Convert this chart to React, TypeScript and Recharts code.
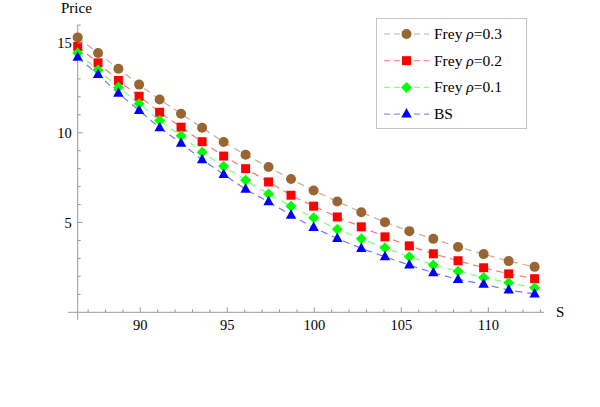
import { LineChart, Line, XAxis, YAxis, Legend, ReferenceLine } from "recharts";

// Underlying price S (x values)
const spotPrices = [
  86.4, 87.57, 88.74, 89.93, 91.11, 92.34, 93.55, 94.79, 96.05, 97.37, 98.66,
  99.96, 101.32, 102.7, 104.06, 105.46, 106.84, 108.26, 109.73, 111.17, 112.66,
];

// Option price per model
const freyRho03 = [
  15.31, 14.44, 13.56, 12.68, 11.85, 11.06, 10.28, 9.48, 8.78, 8.09, 7.42, 6.78,
  6.17, 5.57, 5.02, 4.52, 4.09, 3.64, 3.24, 2.85, 2.53,
];
const freyRho02 = [
  14.81, 13.89, 12.91, 12.03, 11.14, 10.31, 9.5, 8.7, 8.0, 7.26, 6.52, 5.91,
  5.31, 4.76, 4.2, 3.7, 3.26, 2.87, 2.48, 2.14, 1.87,
];
const freyRho01 = [
  14.44, 13.5, 12.53, 11.61, 10.68, 9.83, 8.92, 8.13, 7.35, 6.59, 5.91, 5.26,
  4.63, 4.09, 3.59, 3.09, 2.64, 2.29, 1.94, 1.64, 1.37,
];
const blackScholes = [
  14.2, 13.24, 12.2, 11.24, 10.28, 9.42, 8.5, 7.68, 6.85, 6.15, 5.41, 4.72,
  4.11, 3.56, 3.09, 2.63, 2.2, 1.83, 1.56, 1.24, 1.02,
];

const xTicks = [87, 88, 89, 90, 91, 92, 93, 94, 95, 96, 97, 98, 99, 100, 101, 102, 103, 104, 105, 106, 107, 108, 109, 110, 111, 112, 113];
const xLabelTicks = [90, 95, 100, 105, 110];
const yTicks = [1, 2, 3, 4, 5, 6, 7, 8, 9, 10, 11, 12, 13, 14, 15, 16];
const yLabelTicks = [5, 10, 15];

type Shape = "circle" | "square" | "diamond" | "triangle";

const SERIES: { key: string; rho: string | null; color: string; shape: Shape }[] = [
  { key: "f3", rho: "0.3", color: "#996633", shape: "circle" },
  { key: "f2", rho: "0.2", color: "#ff0000", shape: "square" },
  { key: "f1", rho: "0.1", color: "#00ff00", shape: "diamond" },
  { key: "bs", rho: null, color: "#0000ff", shape: "triangle" },
];

const FONT = '"Liberation Serif", "Times New Roman", serif';
const AXIS = "#9a9a9a";

const data = spotPrices.map((s, i) => ({
  S: s,
  f3: freyRho03[i],
  f2: freyRho02[i],
  f1: freyRho01[i],
  bs: blackScholes[i],
}));

function Marker({ shape, cx, cy, color }: { shape: Shape; cx: number; cy: number; color: string }) {
  if (shape === "circle") return <circle cx={cx} cy={cy} r={5} fill={color} />;
  if (shape === "square") return <rect x={cx - 4.5} y={cy - 4.5} width={9} height={9} fill={color} />;
  if (shape === "diamond")
    return <polygon points={`${cx},${cy - 5.5} ${cx + 5.5},${cy} ${cx},${cy + 5.5} ${cx - 5.5},${cy}`} fill={color} />;
  return <polygon points={`${cx},${cy - 6} ${cx + 5.2},${cy + 3.5} ${cx - 5.2},${cy + 3.5}`} fill={color} />;
}

const dotFor = (shape: Shape, color: string) => (props: any) => {
  const { cx, cy, index } = props;
  if (cx == null || cy == null) return <g key={index} />;
  return <Marker key={index} shape={shape} cx={cx} cy={cy} color={color} />;
};

function XTick(props: any) {
  const { x, y, payload } = props;
  const major = xLabelTicks.includes(payload.value);
  return (
    <g>
      <line x1={x} x2={x} y1={y} y2={y - (major ? 5 : 3)} stroke={AXIS} />
      {major && (
        <text x={x} y={y + 17.5} textAnchor="middle" fontFamily={FONT} fontSize={14.5} fill="#000">
          {payload.value}
        </text>
      )}
    </g>
  );
}

function YTick(props: any) {
  const { x, y, payload } = props;
  const major = yLabelTicks.includes(payload.value);
  return (
    <g>
      <line x1={x} x2={x + (major ? 5 : 3)} y1={y} y2={y} stroke={AXIS} />
      {major && (
        <text x={x - 6} y={y + 5} textAnchor="end" fontFamily={FONT} fontSize={14.5} fill="#000">
          {payload.value}
        </text>
      )}
    </g>
  );
}

function LegendBox() {
  return (
    <svg width={152} height={112} style={{ display: "block" }}>
      <rect x={0.5} y={0.5} width={150} height={110} fill="#fff" stroke="#c4c4c4" />
      {SERIES.map((s, i) => {
        const cy = 16 + i * 26.7;
        return (
          <g key={s.key}>
            <line x1={8} x2={53} y1={cy} y2={cy} stroke={s.color} strokeOpacity={0.55} strokeDasharray="6 4" />
            <Marker shape={s.shape} cx={30.5} cy={cy} color={s.color} />
            <text x={58} y={cy + 5} fontFamily={FONT} fontSize={15.5} fill="#000">
              {s.rho ? (
                <>
                  Frey <tspan fontStyle="italic">ρ</tspan>={s.rho}
                </>
              ) : (
                "BS"
              )}
            </text>
          </g>
        );
      })}
    </svg>
  );
}

export default function App() {
  return (
    <div style={{ position: "absolute", left: 0, top: 0, width: 600, height: 407, background: "#fff" }}>
      <LineChart width={600} height={407} data={data} margin={{ top: 25, right: 56, bottom: 0, left: 0 }}>
        <XAxis
          type="number"
          dataKey="S"
          domain={[86.4, 113.2]}
          ticks={xTicks}
          interval={0}
          height={94.7}
          tickSize={0}
          tickMargin={0}
          tickLine={false}
          tick={<XTick />}
          axisLine={{ stroke: AXIS }}
        />
        <YAxis
          type="number"
          domain={[0, 16]}
          ticks={yTicks}
          interval={0}
          width={77.7}
          tickSize={0}
          tickMargin={0}
          tickLine={false}
          tick={<YTick />}
          axisLine={{ stroke: AXIS }}
        />
        <ReferenceLine segment={[{ x: 85.85, y: 0 }, { x: 86.4, y: 0 }]} ifOverflow="visible" stroke={AXIS} />
        <ReferenceLine segment={[{ x: 86.4, y: -0.42 }, { x: 86.4, y: 0 }]} ifOverflow="visible" stroke={AXIS} />
        {SERIES.map((s) => (
          <Line
            key={s.key}
            dataKey={s.key}
            type="linear"
            stroke={s.color}
            strokeOpacity={0.55}
            strokeWidth={1.2}
            strokeDasharray="7 5"
            dot={dotFor(s.shape, s.color)}
            activeDot={false}
            isAnimationActive={false}
          />
        ))}
        <Legend
          layout="horizontal"
          verticalAlign="middle"
          align="center"
          wrapperStyle={{ top: 18, left: 376, width: 152, height: 112 }}
          content={() => <LegendBox />}
        />
      </LineChart>
      <div style={{ position: "absolute", left: 61, top: 0, fontFamily: FONT, fontSize: 15, lineHeight: "16px" }}>Price</div>
      <div style={{ position: "absolute", left: 556, top: 304, fontFamily: FONT, fontSize: 15, lineHeight: "16px" }}>S</div>
    </div>
  );
}
